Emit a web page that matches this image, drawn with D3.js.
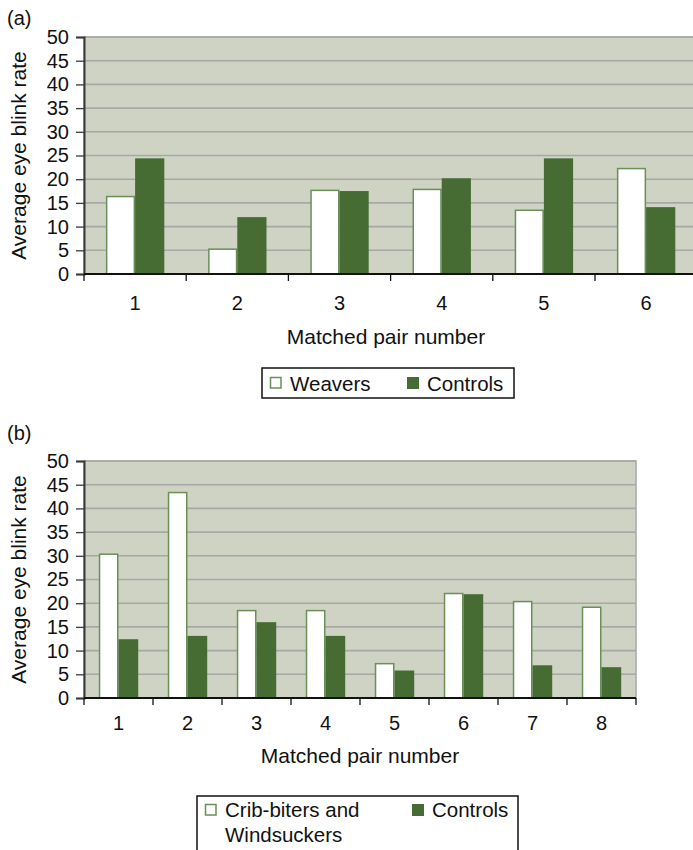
<!DOCTYPE html>
<html>
<head>
	<title>Average eye blink rate</title>
	<meta charset="utf-8">
	<script src="https://d3js.org/d3.v7.min.js"></script>
	<style>
		body { margin: 0; background: #fff; }
		text { font-family: "Liberation Sans", Arial, Helvetica, sans-serif; fill: #111; }
	</style>
</head>
<body>
	<div id="chart"></div>

	<script>
		// data
		const pairsA = ['1', '2', '3', '4', '5', '6']
		const weavers = [16.5, 5.4, 17.8, 18.0, 13.6, 22.4]
		const controlsA = [24.4, 12.0, 17.5, 20.2, 24.4, 14.1]

		const pairsB = ['1', '2', '3', '4', '5', '6', '7', '8']
		const cribBiters = [30.5, 43.5, 18.6, 18.6, 7.4, 22.2, 20.5, 19.3]
		const controlsB = [12.4, 13.1, 16.0, 13.1, 5.8, 21.9, 6.9, 6.5]

		const yTicks = [0, 5, 10, 15, 20, 25, 30, 35, 40, 45, 50]
		const seriesNames = ['first', 'second']

		const bgColor = '#cfd3c3'
		const gridColor = '#a7a8a6'
		const darkGreen = '#466c34'
		const edgeGreen = '#6a8f58'

		const svg = d3.select('#chart')
			.append('svg')
			.attr('width', 693)
			.attr('height', 850)

		function mkPanel(opt){
			const g = svg.append('g')

			const x = d3.scaleBand()
				.domain(opt.cats)
				.range([opt.left, opt.left + opt.step * opt.cats.length])
				.padding(0)

			const xs = d3.scaleBand()
				.domain(seriesNames)
				.range([0, x.bandwidth()])
				.paddingInner(0)
				.paddingOuter(0.75)

			const y = d3.scaleLinear()
				.domain([0, 50])
				.range([opt.bottom, opt.top])

			const right = Math.min(x.range()[1], 693)

			//背景
			g.append('rect')
				.attr('x', opt.left)
				.attr('y', opt.top)
				.attr('width', x.range()[1] - opt.left)
				.attr('height', opt.bottom - opt.top)
				.attr('fill', bgColor)
				.attr('stroke', gridColor)
				.attr('stroke-width', 1.5)

			// gridlines
			g.selectAll('.grid')
				.data(yTicks.filter(d => d > 0))
				.enter()
				.append('line')
				 .attr('x1', opt.left)
				 .attr('x2', x.range()[1])
				 .attr('y1', d => y(d))
				 .attr('y2', d => y(d))
				 .attr('stroke', gridColor)
				 .attr('stroke-width', 1.6)

			// bars
			const rows = opt.cats.map((c, i) => ({cat: c, a: opt.first[i], b: opt.second[i]}))

			g.selectAll('.barA')
				.data(rows)
				.enter()
				.append('rect')
				 .attr('x', d => x(d.cat) + xs('first') + 0.75)
				 .attr('y', d => y(d.a) + 0.75)
				 .attr('width', xs.bandwidth() - 1.5)
				 .attr('height', d => y(0) - y(d.a) - 0.75)
				 .attr('fill', '#fff')
				 .attr('stroke', edgeGreen)
				 .attr('stroke-width', 1.5)

			g.selectAll('.barB')
				.data(rows)
				.enter()
				.append('rect')
				 .attr('x', d => x(d.cat) + xs('second'))
				 .attr('y', d => y(d.b))
				 .attr('width', xs.bandwidth())
				 .attr('height', d => y(0) - y(d.b))
				 .attr('fill', darkGreen)

			// y axis
			const yAxis = d3.axisLeft(y)
				.tickValues(yTicks)
				.tickSize(8)
				.tickPadding(7)
			const ya = g.append('g')
				.attr('transform', 'translate(' + opt.left + ',0)')
				.call(yAxis)
			ya.select('.domain').attr('stroke', '#3a3a3a').attr('stroke-width', 2)
			ya.selectAll('.tick line').attr('stroke', '#3a3a3a').attr('stroke-width', 1.3)
			ya.selectAll('.tick text')
				.style('font-family', '"Liberation Sans", Arial, sans-serif')
				.style('font-size', '20px')
				.attr('fill', '#111')

			// x axis line
			g.append('line')
				.attr('x1', opt.left)
				.attr('x2', x.range()[1])
				.attr('y1', y(0))
				.attr('y2', y(0))
				.attr('stroke', '#111')
				.attr('stroke-width', 2)

			// x ticks at band edges
			const edges = opt.cats.map(c => x(c)).concat([x.range()[1]])
			g.selectAll('.xtick')
				.data(edges)
				.enter()
				.append('line')
				 .attr('x1', d => d)
				 .attr('x2', d => d)
				 .attr('y1', y(0))
				 .attr('y2', y(0) + 7)
				 .attr('stroke', '#111')
				 .attr('stroke-width', 1.3)

			g.selectAll('.xlab')
				.data(opt.cats)
				.enter()
				.append('text')
				 .attr('x', d => x(d) + x.bandwidth() / 2)
				 .attr('y', y(0) + opt.labelDy)
				 .attr('text-anchor', 'middle')
				 .style('font-size', '20px')
				 .text(d => d)

			// titles
			g.append('text')
				.attr('x', opt.titleX)
				.attr('y', opt.xTitleY)
				.attr('text-anchor', 'middle')
				.style('font-size', '21px')
				.text('Matched pair number')

			g.append('text')
				.attr('transform', 'translate(26,' + (opt.top + opt.bottom) / 2 + ') rotate(-90)')
				.attr('text-anchor', 'middle')
				.style('font-size', '21px')
				.text('Average eye blink rate')

			g.append('text')
				.attr('x', 7)
				.attr('y', opt.tagY)
				.style('font-size', '20px')
				.text(opt.tag)

			// legend
			const lg = opt.legend
			g.append('rect')
				.attr('x', lg.x)
				.attr('y', lg.y)
				.attr('width', lg.w)
				.attr('height', lg.h)
				.attr('fill', '#fff')
				.attr('stroke', '#111')
				.attr('stroke-width', 1.5)

			g.append('rect')
				.attr('x', lg.x + 8.5)
				.attr('y', lg.sqY + 0.5)
				.attr('width', 10.5)
				.attr('height', 10.5)
				.attr('fill', '#fff')
				.attr('stroke', edgeGreen)
				.attr('stroke-width', 1.5)

			g.append('rect')
				.attr('x', lg.x2)
				.attr('y', lg.sqY)
				.attr('width', 12)
				.attr('height', 12)
				.attr('fill', darkGreen)

			const t1 = g.append('text')
				.attr('x', lg.x + 28)
				.attr('y', lg.base)
				.style('font-size', '20.5px')
			lg.label1.forEach((s, i) => {
				t1.append('tspan')
					.attr('x', lg.x + 28)
					.attr('dy', i == 0 ? 0 : 25)
					.text(s)
			})

			g.append('text')
				.attr('x', lg.x2 + 20)
				.attr('y', lg.base)
				.style('font-size', '20.5px')
				.text('Controls')
		}

		mkPanel({
			cats: pairsA, first: weavers, second: controlsA,
			left: 84, step: 102.2, top: 37, bottom: 274,
			labelDy: 36, xTitleY: 344, titleX: 386,
			tag: '(a)', tagY: 25,
			legend: {x: 262, y: 368, w: 252, h: 30, sqY: 377, x2: 407, base: 391, label1: ['Weavers']}
		})

		mkPanel({
			cats: pairsB, first: cribBiters, second: controlsB,
			left: 84, step: 69, top: 461, bottom: 698,
			labelDy: 32, xTitleY: 763, titleX: 360,
			tag: '(b)', tagY: 440,
			legend: {x: 197, y: 796, w: 321, h: 70, sqY: 804, x2: 412, base: 817, label1: ['Crib-biters and', 'Windsuckers']}
		})
	</script>
</body>
</html>
